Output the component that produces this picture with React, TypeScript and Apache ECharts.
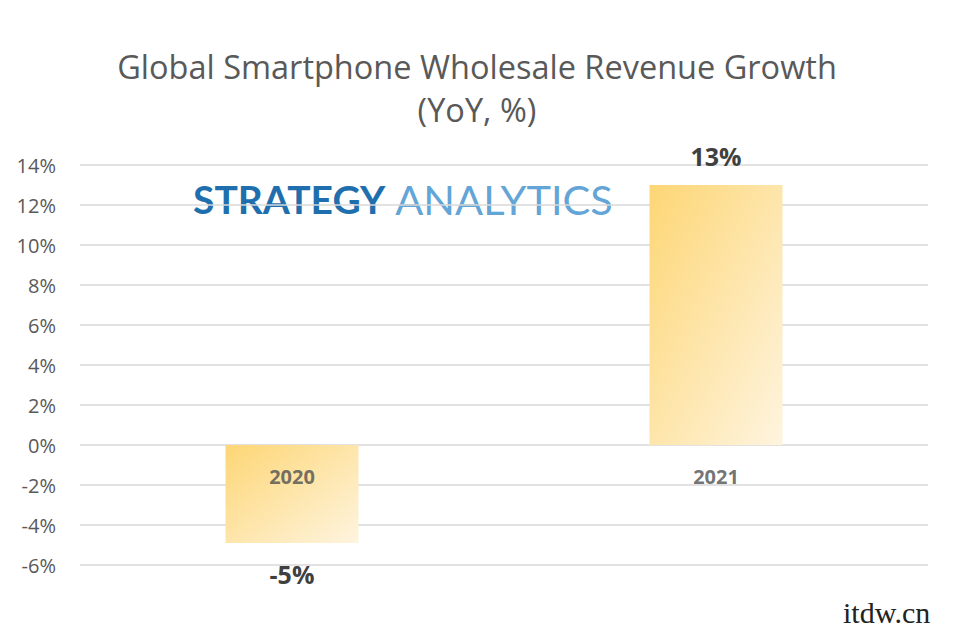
import React, { useEffect, useRef } from "react";
import * as echarts from "echarts";

const titleLines = ["Global Smartphone Wholesale Revenue Growth", "(YoY, %)"];
const categories = ["2020", "2021"];
const growth = [-4.9, 13];
const growthLabels = ["-5%", "13%"];
const yMin = -6;
const yMax = 14;
const yStep = 2;
const logoParts = ["STRATEGY", "ANALYTICS"];
const watermark = "itdw.cn";

const FONT = "'Open Sans', Lato, sans-serif";
const LOGO_FONT = "Lato, 'Open Sans', sans-serif";

export default function App() {
  const ref = useRef<HTMLDivElement>(null);
  useEffect(() => {
    const chart = echarts.init(ref.current!, null, { renderer: "svg" });
    const barColor = new echarts.graphic.LinearGradient(0, 0, 1, 1, [
      { offset: 0, color: "#fdd675" },
      { offset: 1, color: "#fef4df" },
    ]);
    chart.setOption({
      animation: false,
      backgroundColor: "#ffffff",
      grid: { left: 80, right: 41, top: 165, bottom: 67, containLabel: false },
      xAxis: {
        type: "category",
        data: categories,
        axisLine: { show: false },
        axisTick: { show: false },
        axisLabel: { show: false },
      },
      yAxis: {
        type: "value",
        min: yMin,
        max: yMax,
        interval: yStep,
        axisLine: { show: false },
        axisTick: { show: false },
        axisLabel: {
          formatter: "{value}%",
          fontSize: 20,
          color: "#595959",
          margin: 24,
          fontFamily: FONT,
        },
        splitLine: { lineStyle: { color: "#d9d9d9", width: 1.6 } },
      },
      series: [
        {
          type: "bar",
          barWidth: 133,
          z: 2,
          data: growth.map((v, i) => ({
            value: v,
            label: {
              show: true,
              position: v >= 0 ? "top" : "bottom",
              distance: v >= 0 ? 17 : 18,
              formatter: growthLabels[i],
              fontSize: 25,
              fontWeight: "bold",
              color: "#404040",
              fontFamily: FONT,
            },
          })),
          itemStyle: { color: barColor },
        },
        {
          type: "scatter",
          symbolSize: 0,
          silent: true,
          z: 5,
          data: categories.map((c) => [c, 0]),
          label: {
            show: true,
            position: "bottom",
            distance: 21,
            formatter: (p: any) => p.data[0],
            fontSize: 20,
            fontWeight: "bold",
            color: "#4f4f4f",
            fontFamily: FONT,
          },
        },
      ],
      graphic: [
        {
          type: "text",
          x: 477,
          y: 66,
          style: {
            text: titleLines[0],
            font: `32.5px ${FONT}`,
            fill: "#595959",
            textAlign: "center",
            textVerticalAlign: "middle",
          },
        },
        {
          type: "text",
          x: 477,
          y: 109,
          style: {
            text: titleLines[1],
            font: `32.5px ${FONT}`,
            fill: "#595959",
            textAlign: "center",
            textVerticalAlign: "middle",
          },
        },
        {
          type: "text",
          x: 193,
          y: 199,
          style: {
            text: `{a|${logoParts[0]}}{b|${logoParts[1]}}`,
            textVerticalAlign: "middle",
            rich: {
              a: { fontSize: 39, fontWeight: "bold", fill: "#1f6fae", fontFamily: LOGO_FONT },
              b: {
                fontSize: 41.5,
                fontWeight: "normal",
                fill: "#62a5d6",
                fontFamily: LOGO_FONT,
                padding: [0, 0, 0, 10],
              },
            },
          },
        },
        {
          type: "text",
          x: 843,
          y: 612,
          style: {
            text: watermark,
            font: "30px 'Liberation Serif', serif",
            fill: "#222222",
            textVerticalAlign: "middle",
          },
        },
      ],
    });
    return () => chart.dispose();
  }, []);
  return (
    <div
      ref={ref}
      style={{ position: "fixed", left: 0, top: 0, width: 969, height: 632, background: "#fff" }}
    />
  );
}
